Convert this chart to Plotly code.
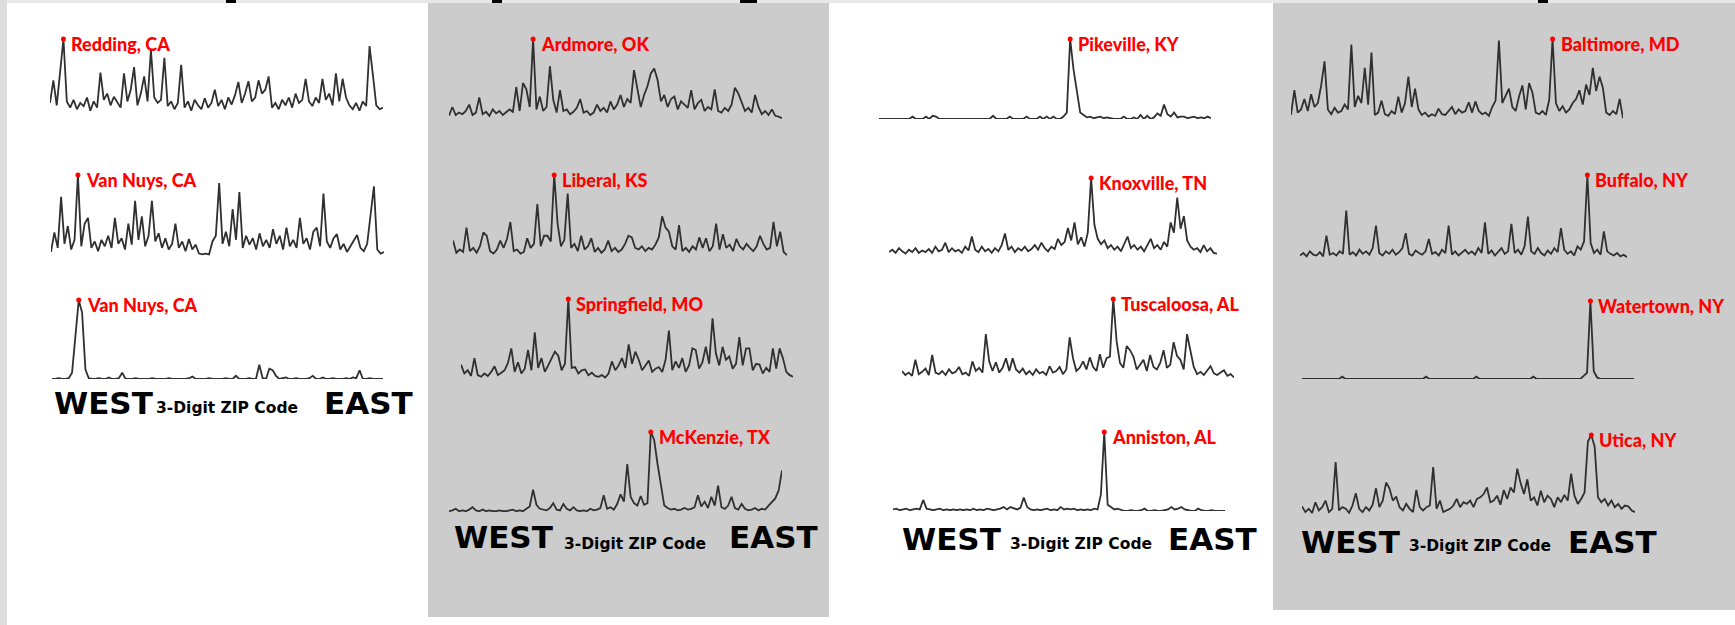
import plotly.graph_objects as go

W, H = 1735, 625

cities = ["Redding, CA", "Van Nuys, CA", "Van Nuys, CA", "Ardmore, OK", "Liberal, KS",
          "Springfield, MO", "McKenzie, TX", "Pikeville, KY", "Knoxville, TN",
          "Tuscaloosa, AL", "Anniston, AL", "Baltimore, MD", "Buffalo, NY",
          "Watertown, NY", "Utica, NY"]

redding = [18,47,15,58,100,20,12,22,10,18, 14,25,8,20,12,57,22,30,15,26,
           18,12,56,20,35,64,15,30,52,20, 86,25,18,22,76,14,20,10,18,67,
           12,20,8,22,15,10,24,12,18,35, 14,22,10,25,16,28,45,18,30,46,
           20,25,47,30,35,52,12,18,10,22, 15,25,12,30,18,22,49,20,14,25,
           18,49,22,30,15,56,20,49,25,15, 10,18,8,20,14,91,54,15,10,12]
van_nuys_1 = [5,29,10,73,15,37,8,20,100,12, 40,47,10,18,6,20,12,25,10,47,
              15,22,8,40,14,68,20,49,12,25, 68,18,28,10,22,8,15,40,10,18,
              6,21,8,14,3,2,3,2,18,25, 90,15,30,12,58,20,79,10,25,14,
              22,8,28,12,20,10,33,15,25,8, 35,12,20,10,47,15,22,8,30,35,
              12,77,18,10,22,27,8,15,5,12, 20,26,10,6,15,53,86,8,3,5]
van_nuys_2 = [0,0,1,0,0,1,8,53,100,84, 12,1,0,0,1,0,0,2,0,0,
              1,8,0,0,0,1,0,0,0,0, 1,0,0,0,0,1,0,0,0,0,
              0,1,3,0,0,0,0,1,0,0, 0,0,1,0,0,4,0,0,0,1,
              0,0,18,1,0,13,11,4,0,1, 2,0,0,1,0,0,0,1,4,0,
              0,2,0,0,1,0,0,0,1,0, 2,1,11,0,0,1,0,0,0,0]
ardmore = [4,15,5,8,6,10,18,5,8,27, 6,9,4,12,7,10,5,8,12,9,
           40,10,45,37,15,100,12,28,10,15, 66,24,8,36,10,12,6,9,14,25,
           8,10,5,8,18,10,14,8,22,12, 18,30,15,25,20,61,39,15,30,41,
           57,63,49,22,30,15,25,28,12,22, 18,14,36,12,20,24,10,15,12,37,
           10,8,14,10,18,39,32,20,10,14, 8,30,15,6,10,5,12,4,3,1]
liberal = [19,4,8,5,35,6,10,4,12,29, 25,6,3,8,19,10,21,42,6,8,
           3,5,22,10,15,64,12,25,25,18, 100,40,12,20,77,10,15,6,25,8,
           12,22,5,10,4,8,19,6,10,5, 8,15,25,23,10,8,12,6,10,8,
           14,23,49,35,30,12,8,38,6,10, 5,12,8,23,10,22,6,12,40,8,
           27,10,14,6,21,12,8,15,10,6, 12,25,15,8,10,42,12,30,5,1]
springfield = [19,8,12,5,27,6,4,8,5,10, 17,6,9,12,21,39,10,22,8,14,
               37,12,59,15,27,10,18,27,35,30, 12,20,100,15,16,8,12,13,6,9,
               5,4,6,3,8,23,12,18,27,15, 44,20,35,25,12,18,24,10,14,16,
               10,25,61,12,23,15,27,10,18,39, 37,14,22,41,20,76,33,18,41,25,
               29,14,20,53,18,39,39,12,20,19, 8,15,10,39,14,39,27,10,6,4]
mckenzie = [1,2,4,1,2,1,3,6,2,1, 3,1,2,1,1,2,1,1,2,3,
            1,2,1,4,7,28,9,4,3,2, 5,11,3,2,10,4,2,6,2,1,
            2,1,4,2,3,5,21,4,6,3, 10,22,13,60,19,11,8,20,9,11,
            100,90,60,33,8,5,3,4,2,3, 5,3,4,6,21,7,13,5,19,8,
            33,6,4,8,19,5,3,10,4,2, 3,5,2,4,3,8,13,17,27,52]
pikeville = [0,0,0,0,0,0,0,0,0,0, 3,0,0,0,3,0,4,3,0,0,
             0,0,0,0,0,0,0,0,0,0, 0,0,0,0,4,0,0,0,0,3,
             0,0,0,0,3,0,0,0,3,0, 3,0,3,0,0,3,8,100,62,35,
             8,5,2,3,1,2,3,1,2,1, 0,0,0,3,0,0,2,0,5,0,
             4,0,2,7,4,18,6,3,8,2, 3,3,1,2,3,1,2,1,3,1]
knoxville = [5,8,4,10,6,3,8,5,10,4, 7,5,9,4,12,6,8,17,5,10,
             6,8,4,12,7,25,8,5,12,6, 9,4,10,6,14,29,8,12,5,10,
             7,12,6,9,14,8,17,10,6,12, 9,22,14,18,36,20,43,15,24,12,
             30,100,40,22,15,20,10,14,8,12, 6,15,25,10,14,8,12,6,15,22,
             10,14,8,18,12,43,30,75,35,51, 20,12,8,10,5,14,6,10,4,3]
tuscaloosa = [10,5,8,4,24,6,9,13,5,30, 8,6,10,5,12,7,9,15,6,8,
              4,22,10,14,8,56,22,10,21,8, 14,26,10,26,12,8,13,6,10,5,
              12,7,9,5,16,8,10,15,6,12, 52,26,10,14,22,12,27,15,10,31,
              14,26,28,100,47,20,14,41,36,28, 12,18,24,10,30,15,12,20,36,14,
              18,46,29,24,12,56,34,15,6,9, 5,10,16,7,5,8,11,4,6,2]
anniston = [2,3,1,2,3,1,2,3,2,14, 3,2,1,2,3,1,2,1,2,1,
            2,1,2,1,3,1,2,1,3,2, 1,2,3,5,2,5,3,2,4,17,
            5,2,1,2,1,2,3,1,2,1, 5,2,3,2,3,1,2,1,2,1,
            3,2,21,100,8,5,2,3,1,0, 0,1,0,0,1,3,0,0,1,0,
            0,1,2,5,2,3,5,2,1,0, 0,3,1,0,0,1,0,0,0,0]
baltimore = [5,36,8,12,25,10,31,15,20,42, 72,12,6,14,8,10,18,12,93,15,
             29,20,64,18,83,5,8,23,6,4, 10,6,28,8,20,53,15,38,12,5,
             8,3,6,4,13,6,5,10,15,6, 12,8,10,21,8,22,10,6,8,4,
             15,23,98,20,30,38,15,10,28,42, 12,45,33,8,6,10,5,24,100,20,
             10,16,8,12,20,25,36,18,43,30, 64,35,53,39,8,5,10,6,25,1]
buffalo = [3,6,2,8,4,3,7,2,27,4, 6,3,8,5,57,4,7,3,10,5,
           8,4,12,39,6,3,8,5,10,4, 7,12,30,5,3,9,6,4,8,23,
           5,7,3,10,6,39,4,8,3,6, 10,5,8,4,12,6,43,5,9,3,
           7,12,5,8,41,6,10,4,14,50, 8,5,12,6,3,9,5,12,7,36,
           10,5,8,3,14,10,20,100,18,6, 10,4,32,8,5,3,6,2,4,1]
watertown = [0,0,0,0,0,0,0,0,0,0, 0,0,3,0,0,0,0,0,0,0,
             0,0,0,0,0,0,0,0,0,0, 0,0,0,0,0,0,0,3,0,0,
             0,0,0,0,0,0,0,0,0,0, 0,0,3,0,0,0,0,0,0,0,
             0,0,0,0,0,0,0,0,0,3, 0,0,0,0,0,0,0,0,0,0,
             0,0,0,0,4,8,100,10,2,0, 0,0,0,0,0,0,0,0,0,0]
utica = [13,6,10,5,18,8,12,20,6,10, 67,8,12,10,5,14,29,10,6,12,
         8,15,35,12,20,42,35,20,25,12, 8,16,10,6,33,12,8,12,14,61,
         10,20,6,8,10,14,22,12,18,16, 20,12,22,24,28,36,18,20,26,15,
         33,22,36,30,59,41,28,46,20,24, 14,32,18,26,22,12,24,18,27,20,
         53,26,16,22,30,92,100,86,24,18, 22,14,20,12,16,10,14,13,8,6]

series = [redding, van_nuys_1, van_nuys_2, ardmore, liberal, springfield, mckenzie,
          pikeville, knoxville, tuscaloosa, anniston, baltimore, buffalo, watertown, utica]

# panel placement in pixels: (left, right, baseline y, peak y)
boxes = [(50, 383, 117, 39), (51, 384, 256, 175), (52, 383, 379, 300),
         (449, 782, 119, 39), (453, 787, 256, 175), (461, 793, 380, 299), (449, 782, 512, 432),
         (879, 1211, 119, 39), (889, 1217, 256, 178), (902, 1234, 379, 299), (893, 1225, 511, 432),
         (1291, 1623, 119, 39), (1300, 1627, 258, 175), (1302, 1634, 379, 301), (1302, 1635, 517, 435)]


def px(x):
    return x / W


def py(y):
    return 1 - y / H


fig = go.Figure()
layout = dict(width=W, height=H, autosize=False, margin=dict(l=0, r=0, t=0, b=0),
              paper_bgcolor="white", plot_bgcolor="rgba(0,0,0,0)", showlegend=False)
annotations = []

for i, (vals, city, (x0, x1, yb, yp)) in enumerate(zip(series, cities, boxes), start=1):
    xs = list(range(len(vals)))
    k = vals.index(max(vals))
    sfx = "" if i == 1 else str(i)
    fig.add_trace(go.Scatter(x=xs, y=vals, mode="lines", xaxis="x" + sfx, yaxis="y" + sfx,
                             line=dict(color="#303030", width=1.8), hoverinfo="skip"))
    fig.add_trace(go.Scatter(x=[k], y=[vals[k]], mode="markers", xaxis="x" + sfx, yaxis="y" + sfx,
                             marker=dict(color="#ff0000", size=5), cliponaxis=False))
    layout["xaxis" + sfx] = dict(domain=[px(x0), px(x1)], range=[0, len(vals) - 1],
                                 visible=False, anchor="y" + sfx, fixedrange=True)
    layout["yaxis" + sfx] = dict(domain=[py(yb), py(yp)], range=[0, max(vals)],
                                 visible=False, anchor="x" + sfx, fixedrange=True)
    annotations.append(dict(x=k, y=vals[k], xref="x" + sfx, yref="y" + sfx, text=city,
                            showarrow=False, xanchor="left", yanchor="middle",
                            xshift=6, yshift=-5,
                            font=dict(family="Lato", size=18, color="#ff0000", weight=900)))

# axis captions per column: (WEST left, caption left, EAST left, WEST center y, caption center y)
captions = [(52, 154, 322, 403, 408), (452, 562, 727, 537, 544),
            (900, 1008, 1166, 539, 544), (1299, 1407, 1566, 542, 546)]
for wx, cx, ex, wy, cy in captions:
    for txt, xx, yy, sz in (("WEST", wx, wy, 31), ("EAST", ex, wy, 31), ("3-Digit ZIP Code", cx, cy, 15.5)):
        annotations.append(dict(x=px(xx), y=py(yy), xref="paper", yref="paper", text=txt,
                                showarrow=False, xanchor="left", yanchor="middle",
                                font=dict(family="DejaVu Sans", size=sz, color="black", weight="bold")))

shapes = [
    dict(type="rect", xref="paper", yref="paper", x0=0, x1=1, y0=py(3), y1=1,
         fillcolor="#e8e8e8", line_width=0, layer="below"),
    dict(type="rect", xref="paper", yref="paper", x0=0, x1=px(7), y0=0, y1=1,
         fillcolor="#dddddd", line_width=0, layer="below"),
    dict(type="rect", xref="paper", yref="paper", x0=px(428), x1=px(829), y0=py(617), y1=py(3),
         fillcolor="#cccccc", line_width=0, layer="below"),
    dict(type="rect", xref="paper", yref="paper", x0=px(1273), x1=1, y0=py(610), y1=py(3),
         fillcolor="#cccccc", line_width=0, layer="below"),
]
# descenders of the cropped page title peeking in at the top edge
for a, b in ((226, 236), (492, 502), (740, 757), (1538, 1548)):
    shapes.append(dict(type="rect", xref="paper", yref="paper", x0=px(a), x1=px(b),
                       y0=py(3), y1=1, fillcolor="black", line_width=0, layer="above"))

layout["annotations"] = annotations
layout["shapes"] = shapes
fig.update_layout(**layout)
fig.write_html("out.html", config={"displayModeBar": False, "staticPlot": True},
               post_script="document.body.style.margin='0';document.body.style.overflow='hidden';")
